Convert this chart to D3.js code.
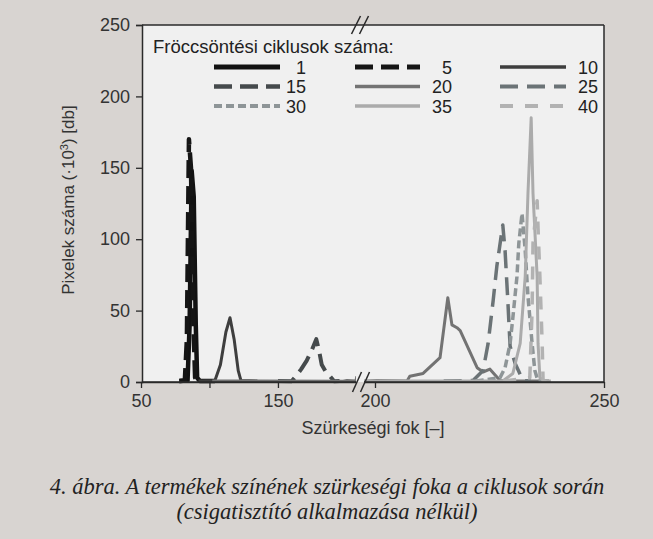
<!DOCTYPE html>
<html><head><meta charset="utf-8">
<script src="https://cdnjs.cloudflare.com/ajax/libs/d3/7.8.5/d3.min.js"></script>
<style>
html,body{margin:0;padding:0;background:#d8d4d1;}
svg{display:block;}
</style></head>
<body>
<svg id="c" width="653" height="539"></svg>
<script>
// ---- data ----
const seriesNames = ["1","5","10","15","20","25","30","35","40"];
const s1  = [[78,0],[84,1],[85.5,40],[87,148],[88.5,130],[90,40],[91,3],[93,0],[104,0]];
const s5  = [[78,0],[82,1],[83.5,30],[85,170],[86.5,150],[88,50],[89.5,3],[92,0]];
const s10 = [[92,0],[104,1],[108,12],[112,35],[115,45],[118,30],[121,8],[123,1],[135,0]];
const s15 = [[150,0],[160,0.5],[163,4],[167,9],[171,15],[175,23],[178,30],[180,22],[182,12],[185,7],[188,4],[191,0.5],[195,0]];
const s20 = [[102,0],[207,0],[197.6,0.5],[200.4,1],[207.6,4],[210.5,6],[214.2,17],[215.9,59],[216.8,40],[217.9,38],[218.6,36],[222.3,10],[223.6,7],[225.1,9],[227.3,1],[229.5,0],[238,0]];
const s25 = [[215,0],[221.4,1],[223.6,8],[224.7,27],[225.8,57],[226.6,81],[227.9,110],[228.4,92],[229.0,57],[229.5,25],[230.6,13],[232.3,1],[234,0]];
const s30 = [[222,0],[227.3,3],[228.4,10],[229.5,27],[230.1,45],[231.0,74],[231.4,97],[232.1,118],[232.8,92],[233.4,60],[234.3,27],[234.9,8],[235.6,0],[238,0]];
const s35 = [[197.6,0],[227.9,0],[230.1,6],[231.7,27],[232.8,74],[233.4,132],[234.1,185],[234.5,132],[235.4,74],[235.6,27],[236.0,3],[237.1,0],[238.4,0]];
const s40 = [[228,0],[233.8,3],[234.3,50],[234.5,97],[235.4,127],[235.6,108],[236.0,74],[236.5,27],[236.7,0],[238,0]];
const seriesData = [s1,s5,s10,s15,s20,s25,s30,s35,s40];
const leftTicks = [50,100,150];
const leftTickLabels = ["50","","150"];
const rightTicks = [200,250];
const yTicks = [0,50,100,150,200,250];

// ---- styles ----
const styles = [
  {c:"#121212", w:4.5, d:null},
  {c:"#151515", w:4.5, d:"18,8"},
  {c:"#3e3e3e", w:3, d:null},
  {c:"#454a4c", w:4, d:"18,8"},
  {c:"#737373", w:3, d:null},
  {c:"#6b7376", w:3.5, d:"18,9"},
  {c:"#8e9597", w:3.5, d:"8,4"},
  {c:"#ababab", w:3, d:null},
  {c:"#b2b2b2", w:3.5, d:"13,12"}
];

const svg = d3.select("#c");
const L = 142, R = 604, T = 25, B = 382;
const breakL = 356, breakR = 364;

const xL = d3.scaleLinear().domain([50, 207]).range([141, breakL]);
const xR = d3.scaleLinear().domain([197.6, 250]).range([breakR, R]);
const y = d3.scaleLinear().domain([0, 250]).range([B, T]);

svg.append("rect").attr("x",0).attr("y",0).attr("width",653).attr("height",539).attr("fill","#d8d4d1");
svg.append("rect").attr("x",L).attr("y",T).attr("width",R-L).attr("height",B-T).attr("fill","#f0f0f0");

const defs = svg.append("defs");
defs.append("clipPath").attr("id","clipL").append("rect").attr("x",L).attr("y",0).attr("width",breakL-L).attr("height",B+4);
defs.append("clipPath").attr("id","clipR").append("rect").attr("x",breakR).attr("y",0).attr("width",R-breakR).attr("height",B+4);

const gL = svg.append("g").attr("clip-path","url(#clipL)");
const gR = svg.append("g").attr("clip-path","url(#clipR)");

seriesData.forEach((data, i) => {
  const st = styles[i];
  const left = data.filter(p => p[0] <= 210).sort((a,b)=>a[0]-b[0]);
  const right = data.filter(p => p[0] >= 197).sort((a,b)=>a[0]-b[0]);
  [[gL, left, xL],[gR, right, xR]].forEach(([g, pts, sx]) => {
    if (pts.length < 2) return;
    const line = d3.line().x(p => sx(p[0])).y(p => y(p[1]) - (p[1] === 0 ? 1 : 0));
    g.append("path").attr("d", line(pts)).attr("fill","none")
      .attr("stroke", st.c).attr("stroke-width", st.w)
      .attr("stroke-dasharray", st.d).attr("stroke-linejoin","round");
  });
});

// frame
const frame = svg.append("g").attr("stroke","#2a2a2a").attr("stroke-width",1.5).attr("fill","none");
frame.append("line").attr("x1",L).attr("x2",R).attr("y1",T).attr("y2",T);
frame.append("line").attr("x1",R).attr("x2",R).attr("y1",T).attr("y2",B);

// axes
const fontF = "'Liberation Sans', Arial, sans-serif";
const yAxis = svg.append("g").attr("transform",`translate(${L},0)`)
  .call(d3.axisLeft(y).tickValues(yTicks).tickSize(6).tickPadding(6));
const axL = svg.append("g").attr("transform",`translate(0,${B})`)
  .call(d3.axisBottom(xL).tickValues(leftTicks).tickFormat((d,i)=>leftTickLabels[i]).tickSize(6).tickPadding(6).tickSizeOuter(0));
const axR = svg.append("g").attr("transform",`translate(0,${B})`)
  .call(d3.axisBottom(xR).tickValues(rightTicks).tickFormat(d3.format("d")).tickSize(6).tickPadding(6).tickSizeOuter(0));
[yAxis, axL, axR].forEach(a => {
  a.selectAll("path").attr("stroke","#2a2a2a").attr("stroke-width",1.5);
  a.selectAll("line").attr("stroke","#2a2a2a").attr("stroke-width",1.3);
  a.selectAll("text").attr("font-family",fontF).attr("font-size",18).attr("fill","#333");
});
svg.append("line").attr("x1",L).attr("x2",breakL).attr("y1",B).attr("y2",B).attr("stroke","#2a2a2a").attr("stroke-width",1.5);
svg.append("line").attr("x1",breakR).attr("x2",R).attr("y1",B).attr("y2",B).attr("stroke","#2a2a2a").attr("stroke-width",1.5);

// break marks
function brk(cx, cy, h) {
  const g = svg.append("g");
  [-4, 4].forEach(dx => {
    g.append("line").attr("x1",cx+dx-4.5).attr("y1",cy+h).attr("x2",cx+dx+4.5).attr("y2",cy-h)
      .attr("stroke","#2a2a2a").attr("stroke-width",1.5);
  });
}
brk(360, T, 9);
brk(361, B, 10);

// axis titles
svg.append("text").attr("x",373).attr("y",434).attr("text-anchor","middle")
  .attr("font-family",fontF).attr("font-size",18).attr("fill","#333").text("Szürkeségi fok [–]");
const yt = svg.append("text").attr("transform","translate(74,200) rotate(-90)").attr("text-anchor","middle")
  .attr("font-family",fontF).attr("font-size",17).attr("fill","#333");
yt.append("tspan").text("Pixelek száma (·10");
yt.append("tspan").attr("font-size",11).attr("dy",-6).text("3");
yt.append("tspan").attr("dy",6).text(") [db]");

// legend
svg.append("text").attr("x",153).attr("y",53).attr("font-family",fontF).attr("font-size",18.5).attr("fill","#222")
  .text("Fröccsöntési ciklusok száma:");
const colLine = [[214,280],[355,420],[500,566]];
const colText = [306,452,598];
const rowY = [67,86.5,106];
seriesNames.forEach((n,i) => {
  const r = Math.floor(i/3), c = i%3, st = styles[i];
  svg.append("line").attr("x1",colLine[c][0]).attr("x2",colLine[c][1]).attr("y1",rowY[r]).attr("y2",rowY[r])
    .attr("stroke",st.c).attr("stroke-width",st.w+0.5).attr("stroke-dasharray",st.d);
  svg.append("text").attr("x",colText[c]).attr("y",rowY[r]+6.5).attr("text-anchor","end")
    .attr("font-family",fontF).attr("font-size",18).attr("fill","#222").text(n);
});

// caption
const capF = "'Liberation Serif', 'DejaVu Serif', serif";
svg.append("text").attr("x",327).attr("y",494).attr("text-anchor","middle").attr("font-family",capF)
  .attr("font-style","italic").attr("font-size",22.5).attr("fill","#222")
  .text("4. ábra. A termékek színének szürkeségi foka a ciklusok során");
svg.append("text").attr("x",327).attr("y",519).attr("text-anchor","middle").attr("font-family",capF)
  .attr("font-style","italic").attr("font-size",22.5).attr("fill","#222")
  .text("(csigatisztító alkalmazása nélkül)");
</script>
</body></html>
